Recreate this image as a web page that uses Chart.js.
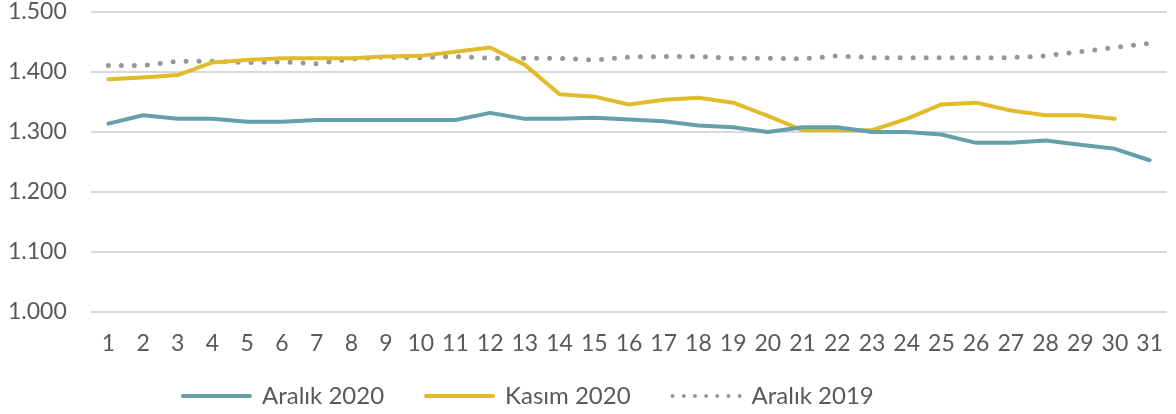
<!DOCTYPE html>
<html><head><meta charset="utf-8">
<script src="https://cdn.jsdelivr.net/npm/chart.js@4.4.0/dist/chart.umd.min.js"></script>
<style>html,body{margin:0;padding:0;background:#fff;overflow:hidden}#w{width:1176px;height:414px;position:relative}</style>
</head><body><div id="w"><canvas id="c"></canvas></div>
<script>
const days = ['1','2','3','4','5','6','7','8','9','10','11','12','13','14','15','16','17','18','19','20','21','22','23','24','25','26','27','28','29','30','31'];
const aralik2020 = [1314,1328,1322,1322,1317,1317,1320,1320,1320,1320,1320,1332,1322,1322,1324,1321,1318,1311,1308,1300,1308,1308,1300,1300,1296,1282,1282,1286,1279,1272,1253];
const kasim2020 = [1388,1391,1395,1416,1420,1423,1423,1423,1426,1427,1434,1441,1412,1363,1359,1346,1354,1357,1349,1327,1303,1303,1303,1322,1346,1349,1336,1328,1328,1322,null];
const aralik2019 = [1411,1411,1418,1418,1416,1417,1414,1422,1425,1424,1426,1423,1423,1423,1420,1425,1426,1426,1423,1423,1422,1427,1424,1424,1424,1424,1424,1427,1434,1441,1448];
const yTicks = [1000,1100,1200,1300,1400,1500];
const seriesNames = ['Aralık 2020','Kasım 2020','Aralık 2019'];

const FONT = "Lato, 'DejaVu Sans', sans-serif";
const TXT = '#595959';
function fmt(v){ const s=String(Math.round(v)); return s.slice(0,s.length-3)+'.'+s.slice(-3); }

const legendPos = {id:'legendPos', afterLayout(chart){ const lg = chart.legend; lg.left = 141; lg.top = 342; }};

new Chart(document.getElementById('c'), {
  type:'line',
  data:{ labels:days, datasets:[
    {label:seriesNames[0], data:aralik2020, borderColor:'#63a0aa', backgroundColor:'#63a0aa', borderWidth:4, pointRadius:0, tension:0, borderJoinStyle:'round', borderCapStyle:'round'},
    {label:seriesNames[1], data:kasim2020, borderColor:'#e1bb2b', backgroundColor:'#e1bb2b', borderWidth:4, pointRadius:0, tension:0, borderJoinStyle:'round', borderCapStyle:'round'},
    {label:seriesNames[2], data:aralik2019, borderColor:'#979797', backgroundColor:'rgba(0,0,0,0)', borderWidth:5, borderDash:[0,13], borderCapStyle:'round', borderJoinStyle:'round', pointRadius:0, tension:0}
  ]},
  plugins:[legendPos],
  options:{
    responsive:true, maintainAspectRatio:false, animation:false,
    layout:{padding:{left:8,right:9,top:0,bottom:0}},
    plugins:{
      tooltip:{enabled:false},
      legend:{position:'bottom', align:'start', maxHeight:56,
        labels:{font:{family:FONT,size:24}, color:TXT, boxWidth:67, boxHeight:0, padding:42,
          generateLabels:(chart)=>{ const it = Chart.defaults.plugins.legend.labels.generateLabels(chart); it[2].lineDash=[0,67/6]; it[2].lineWidth=4; return it; }}}
    },
    scales:{
      x:{offset:true, grid:{display:false}, border:{display:false}, afterFit:(s)=>{s.height=46;},
         ticks:{autoSkip:false, maxRotation:0, font:{family:FONT,size:23}, color:TXT, padding:10}},
      y:{min:1000, max:1500, afterFit:(s)=>{s.width=83;},
         grid:{color:'#d9d9d9', lineWidth:2, drawTicks:false}, border:{display:false},
         afterBuildTicks:(s)=>{s.ticks=yTicks.map(v=>({value:v}));},
         ticks:{font:{family:FONT,size:23,lineHeight:1.05}, color:TXT, padding:0, crossAlign:'far', callback:(v)=>fmt(v)}}
    }
  }
});
</script></body></html>
